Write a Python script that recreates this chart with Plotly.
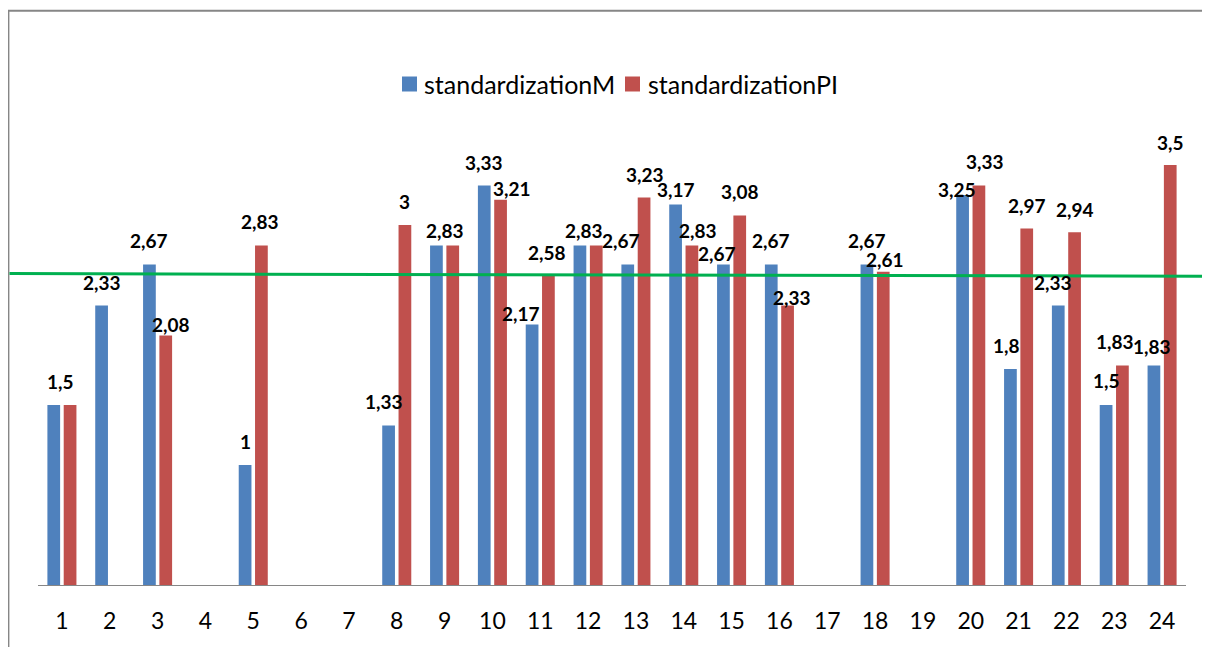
import plotly.graph_objects as go

# ---------------- data ----------------
categories = list(range(1, 25))
standardizationM = [1.5, 2.33, 2.67, None, 1, None, None, 1.33, 2.83, 3.33, 2.17, 2.83,
                    2.67, 3.17, 2.67, 2.67, None, 2.67, None, 3.25, 1.8, 2.33, 1.5, 1.83]
standardizationPI = [1.5, None, 2.08, None, 2.83, None, None, 3, 2.83, 3.21, 2.58, 2.83,
                     3.23, 2.83, 3.08, 2.33, None, 2.61, None, 3.33, 2.97, 2.94, 1.83, 3.5]
series_names = ["standardizationM", "standardizationPI"]
reference_line = [2.595, 2.573]   # green reference line (left end, right end)

# label placement (px offset from bar centre / px above bar top); None = label hidden
m_label_dx = [6.4, 0, -0.7, None, 0, None, None, -5, 9, -0.7, -11, 4.4,
              -7, 0, -6, 0, None, 0, None, -6, -4, -5, 0, -2]
m_label_dy = [23.3, 23.3, 24.3, None, 23.3, None, None, 24, 15, 23.3, 11.6, 15,
              24.3, 15, 11.6, 24.3, None, 24.3, None, 6, 23.3, 23.3, 25, 19]
pi_label_dx = [None, None, 5, None, -1, None, None, 0, None, 11, -1, None,
               0.7, 6.4, 0, 4.7, None, 2, None, 6.3, 0, 0, -7, 0]
pi_label_dy = [None, None, 10.7, None, 24, None, None, 23.6, None, 11.6, 23.3, None,
               23.4, 15, 24, 8.3, None, 12.7, None, 23.6, 22.7, 22.7, 24, 22.3]

# ---------------- layout constants ----------------
W, H = 1210, 647
OFF = 8                       # page body margin: screen px = figure px + OFF
ML, MR, MT, MB = 30, 32, 37, 70
plot_w = W - ML - MR
plot_h = H - MT - MB
BARGAP = 0.318
BARGROUPGAP = 0.22
slot_px = plot_w / len(categories) * (1 - BARGAP) / 2

BLUE = "#4F81BD"
RED = "#C0504D"
GRAY = "#868686"
GREEN = "#00B050"
FONT = "Lato"
colors = [BLUE, RED]


def fmt(v):
    return ("%g" % v).replace(".", ",")


# screen-pixel -> paper coordinates
def sx(px):
    return (px - OFF - ML) / plot_w


def sy(py):
    return (H - MB - (py - OFF)) / plot_h


fig = go.Figure()
for name, vals, col in zip(series_names, [standardizationM, standardizationPI], colors):
    fig.add_trace(go.Bar(x=categories, y=vals, name=name,
                         marker=dict(color=col, line=dict(width=0))))

annotations = []
for series, dxs, dys, side in [(standardizationM, m_label_dx, m_label_dy, -1),
                               (standardizationPI, pi_label_dx, pi_label_dy, 1)]:
    for c, v, dx, dy in zip(categories, series, dxs, dys):
        if v is None or dx is None:
            continue
        annotations.append(dict(
            x=c, y=v, xref="x", yref="y", text="<b>%s</b>" % fmt(v),
            showarrow=False, xanchor="center", yanchor="middle",
            xshift=side * slot_px / 2 + dx, yshift=dy,
            font=dict(family=FONT, size=19, color="black")))

# custom legend (square swatch + text)
legend_sq_left = [402, 625]
legend_text_left = [423, 647]
legend_cy = 84
shapes = []
for name, col, sql, txl in zip(series_names, colors, legend_sq_left, legend_text_left):
    shapes.append(dict(type="rect", xref="paper", yref="paper",
                       x0=sx(sql), x1=sx(sql + 15), y0=sy(legend_cy - 7.5), y1=sy(legend_cy + 7.5),
                       line=dict(width=0), fillcolor=col))
    annotations.append(dict(x=sx(txl), y=sy(legend_cy), xref="paper", yref="paper",
                            text=name, showarrow=False, xanchor="left", yanchor="middle",
                            borderpad=0,
                            font=dict(family=FONT, size=25, color="black")))

# frame and reference line
shapes += [
    dict(type="rect", xref="paper", yref="paper",
         x0=sx(8.4), x1=1.2, y0=-0.4, y1=sy(10.8),
         line=dict(color=GRAY, width=2), fillcolor="rgba(0,0,0,0)", layer="below"),
    dict(type="line", xref="paper", yref="y",
         x0=sx(9.5), x1=sx(1230), y0=reference_line[0], y1=reference_line[1],
         line=dict(color=GREEN, width=3)),
]

fig.update_layout(
    width=W, height=H,
    margin=dict(l=ML, r=MR, t=MT, b=MB),
    paper_bgcolor="white", plot_bgcolor="white",
    barmode="group", bargap=BARGAP, bargroupgap=BARGROUPGAP,
    showlegend=False,
    xaxis=dict(range=[0.5, 24.5], tickmode="array", tickvals=categories,
               ticktext=[str(c) for c in categories], automargin=False,
               showline=True, linecolor=GRAY, linewidth=1.3,
               ticks="outside", ticklen=15, tickcolor="rgba(0,0,0,0)",
               showgrid=False, zeroline=False,
               tickfont=dict(family=FONT, size=23, color="black")),
    yaxis=dict(range=[0, 4.5], visible=False, showgrid=False, zeroline=False,
               automargin=False),
    annotations=annotations,
    shapes=shapes,
)

fig.write_html("out.html")
